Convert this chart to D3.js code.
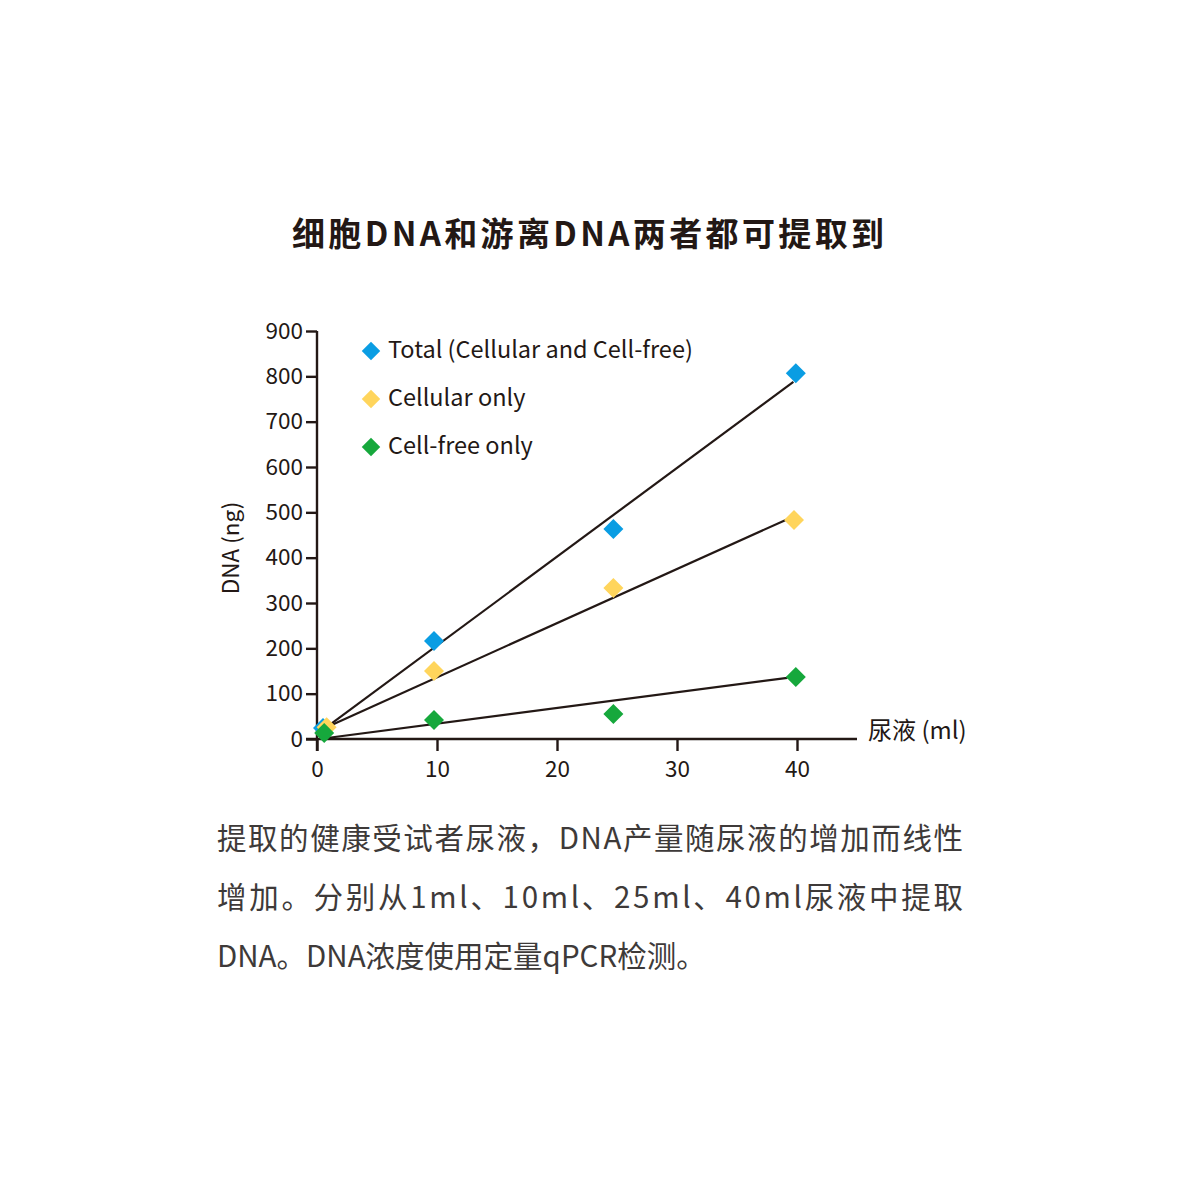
<!DOCTYPE html>
<html>
<head>
<meta charset="utf-8">
<script src="https://cdn.jsdelivr.net/npm/d3@7"></script>
<style>
  html, body { margin: 0; padding: 0; background: #fff; }
  svg text { font-family: "Noto Sans CJK SC", "Noto Sans", sans-serif; }
</style>
</head>
<body>
<div id="chart-area"></div>
<script>
// data
var seriesNames = ['Total (Cellular and Cell-free)', 'Cellular only', 'Cell-free only']
var seriesColors = ['#0a9de3', '#ffd55c', '#16a83c']
var urineMl = [0.5, 9.75, 24.7, 39.9]
var totalDNA = [24, 216, 463, 807]
var cellularDNA = [26, 150, 333, 483]
var cellFreeDNA = [13, 42, 55, 137]
var cellularX = [0.8, 9.75, 24.7, 39.75]
var cellFreeX = [0.6, 9.75, 24.7, 39.9]

// fitted trend lines: [x0, y0, x1, y1]
var fitTotal = [0.8, 26, 39.7, 788]
var fitCellular = [0.8, 26, 39.2, 485]
var fitCellFree = [0.2, 0, 39.2, 135]

var xTicks = [0, 10, 20, 30, 40]
var yTicks = [0, 100, 200, 300, 400, 500, 600, 700, 800, 900]

var titleText = '细胞DNA和游离DNA两者都可提取到'
var xLabel = '尿液 (ml)'
var yLabel = 'DNA (ng)'
var captionLines = [
  '提取的健康受试者尿液，DNA产量随尿液的增加而线性',
  '增加。分别从1ml、10ml、25ml、40ml尿液中提取',
  'DNA。DNA浓度使用定量qPCR检测。'
]

var ink = '#231815'

//SVG
var W = 1181, H = 1181
var margin = {left: 317, top: 331}
var width = 480, height = 408

var svg = d3.select('#chart-area').append('svg')
  .attr('width', W)
  .attr('height', H)

svg.append('text')
  .attr('x', 588)
  .attr('y', 246)
  .attr('text-anchor', 'middle')
  .attr('font-size', '33px')
  .attr('font-weight', 'bold')
  .attr('fill', ink)
  .attr('textLength', 592)
  .attr('lengthAdjust', 'spacing')
  .text(titleText)

var group = svg.append('g')
  .attr('transform', 'translate(' + margin.left + ',' + margin.top + ')')

//scales
var xScale = d3.scaleLinear().domain([0, 40]).range([0, width])
var yScale = d3.scaleLinear().domain([0, 900]).range([height, 0])

//x axis
var xAxis = d3.axisBottom(xScale)
  .tickValues(xTicks)
  .tickSize(12)
  .tickPadding(6)
var xg = group.append('g')
  .attr('transform', 'translate(0,' + height + ')')
  .call(xAxis)
xg.select('.domain').attr('d', 'M-11,0H' + (width + 60))

//y axis
var yAxis = d3.axisLeft(yScale)
  .tickValues(yTicks)
  .tickSize(11)
  .tickPadding(3)
var yg = group.append('g').call(yAxis)
yg.select('.domain').attr('d', 'M0,0V' + (height + 12))

group.selectAll('.domain, .tick line')
  .attr('stroke', ink)
  .attr('stroke-width', 2.4)
group.selectAll('.tick text')
  .attr('fill', ink)
  .attr('font-size', '22.5px')
  .attr('font-family', '"Noto Sans CJK SC", sans-serif')
xg.selectAll('.tick text').attr('dy', '0.9em')

//axis labels
group.append('text')
  .attr('x', width + 71)
  .attr('y', height)
  .attr('font-size', '24px')
  .attr('fill', ink)
  .text(xLabel)

group.append('text')
  .attr('transform', 'rotate(-90)')
  .attr('x', -217)
  .attr('y', -78)
  .attr('text-anchor', 'middle')
  .attr('font-size', '22.5px')
  .attr('fill', ink)
  .text(yLabel)

//trend lines
var fits = [fitTotal, fitCellular, fitCellFree]
group.selectAll('.fit')
  .data(fits)
  .enter()
  .append('line')
  .attr('class', 'fit')
  .attr('x1', function(d){ return xScale(d[0]) })
  .attr('y1', function(d){ return yScale(d[1]) })
  .attr('x2', function(d){ return xScale(d[2]) })
  .attr('y2', function(d){ return yScale(d[3]) })
  .attr('stroke', ink)
  .attr('stroke-width', 2.2)

//points
var series = [
  {x: urineMl, y: totalDNA},
  {x: cellularX, y: cellularDNA},
  {x: cellFreeX, y: cellFreeDNA}
]
var diamond = d3.symbol().type(d3.symbolSquare).size(200)

series.forEach(function(s, si){
  var pts = s.x.map(function(x, i){ return [x, s.y[i]] })
  group.selectAll('.pt' + si)
    .data(pts)
    .enter()
    .append('path')
    .attr('class', 'pt' + si)
    .attr('d', diamond)
    .attr('transform', function(d){
      return 'translate(' + xScale(d[0]) + ',' + yScale(d[1]) + ') rotate(45)'
    })
    .attr('fill', seriesColors[si])
})

//legend
var legend = svg.append('g')
  .attr('transform', 'translate(371,351)')
var items = legend.selectAll('g')
  .data(seriesNames)
  .enter()
  .append('g')
  .attr('transform', function(d, i){ return 'translate(0,' + (i * 48) + ')' })
items.append('path')
  .attr('d', d3.symbol().type(d3.symbolSquare).size(170))
  .attr('transform', 'rotate(45)')
  .attr('fill', function(d, i){ return seriesColors[i] })
items.append('text')
  .attr('x', 17)
  .attr('y', -1)
  .attr('dy', '0.33em')
  .attr('font-size', '23.5px')
  .attr('fill', ink)
  .text(function(d){ return d })

//caption
svg.append('g').selectAll('text')
  .data(captionLines)
  .enter()
  .append('text')
  .attr('x', 217)
  .attr('y', function(d, i){ return 849 + i * 59 })
  .attr('font-size', '29.5px')
  .attr('fill', '#3e3a39')
  .each(function(d, i){
    if (i < 2) d3.select(this).attr('textLength', 746).attr('lengthAdjust', 'spacing')
  })
  .text(function(d){ return d })
</script>
</body>
</html>
